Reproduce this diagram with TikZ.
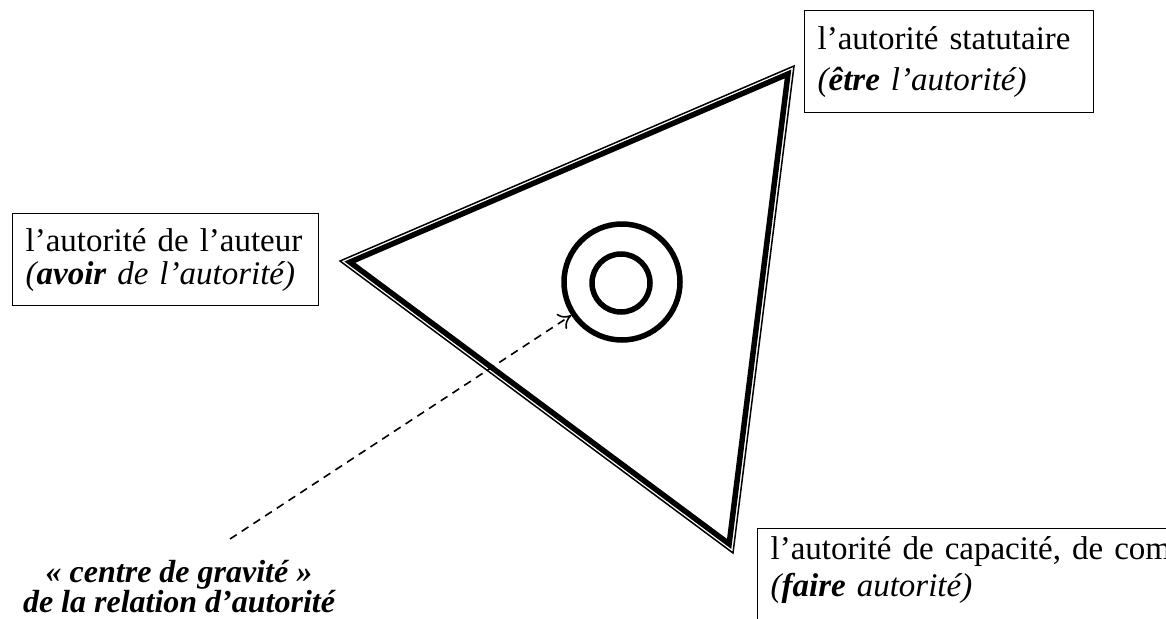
\documentclass[tikz,border=0pt]{standalone}
\usepackage{fontspec}
\setmainfont{Liberation Serif}
\usetikzlibrary{arrows.meta,calc}

\begin{document}
\begin{tikzpicture}[
            x=1pt, y=-1pt,
            pole/.style={rectangle, draw, line width=1.3pt, align=left, anchor=north west, inner xsep=13pt, font=\fontsize{33}{41}\selectfont},
            centre/.style={align=center, inner sep=0pt, font=\fontsize{32}{30}\selectfont\bfseries\itshape},
            ring/.style={circle, draw, line width=5.5pt, inner sep=0pt},
            edge/.style={line width=1.5pt, line join=miter},
            thickedge/.style={line width=5.5pt, line join=miter},
            arrow/.style={-{To[length=12pt, width=18pt]}, line width=1.6pt, dash pattern=on 8pt off 6pt}
        ]
            \useasboundingbox (0,0) rectangle (1166,618);

            \coordinate (gauche) at (340,261);
            \coordinate (haut) at (794,66);
            \coordinate (bas) at (733,553);
            \coordinate (milieu) at ($(gauche)!0.5!(haut)!1/3!(bas)$);

            \draw[edge] (gauche) -- (haut) -- (bas) -- cycle;
            \draw[thickedge] ($(milieu)!0.965!(gauche)$) -- ($(milieu)!0.965!(haut)$) -- ($(milieu)!0.965!(bas)$) -- cycle;

            \node[ring, minimum size=116pt] (cible) at (622,282) {};
            \node[ring, minimum size=58pt] (noyau) at (621,283) {};

            \node[pole, text width=263pt, minimum height=102pt] (statut) at (804,10) {l'autorité statutaire\\\textit{(\textbf{être} l'autorité)}};
            \node[pole, text width=280pt, minimum height=92pt, font=\fontsize{33}{33}\selectfont] (auteur) at (12,213) {l'autorité de l'auteur\\\textit{(\textbf{avoir} de l'autorité)}};
            \node[pole, text width=600pt, inner ysep=8pt, font=\fontsize{33}{37}\selectfont] (capacite) at (757,528) {l'autorité de capacité, de comp\\\textit{(\textbf{faire} autorité)}\\[30pt]\mbox{}};

            \node[centre] (gravite) at (179,587) {« centre de gravité »\\de la relation d'autorité};
            \coordinate (queue) at (230,539);

            \draw[arrow] (queue) -- (cible);
        \end{tikzpicture}
\end{document}
